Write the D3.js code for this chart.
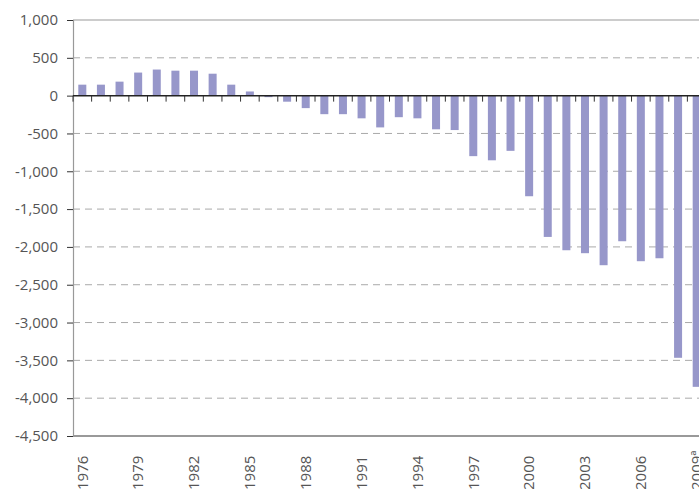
<!DOCTYPE html>
<html><head><meta charset="utf-8">
<script src="https://cdn.jsdelivr.net/npm/d3@7"></script>
<style>
html,body{margin:0;padding:0;background:#fff;overflow:hidden}
svg{display:block}
text{font-family:"Open Sans",sans-serif;fill:#555}
</style></head>
<body>
<svg id="c" width="699" height="489"></svg>
<script>
const years = ["1976","1977","1978","1979","1980","1981","1982","1983","1984","1985","1986","1987","1988","1989","1990","1991","1992","1993","1994","1995","1996","1997","1998","1999","2000","2001","2002","2003","2004","2005","2006","2007","2008","2009"];
const values = [145,145,185,305,345,330,330,290,145,55,-20,-80,-165,-245,-245,-300,-420,-285,-300,-445,-455,-800,-855,-730,-1330,-1868,-2044,-2083,-2242,-1925,-2189,-2150,-3466,-3850];
const yTicks = [1000,500,0,-500,-1000,-1500,-2000,-2500,-3000,-3500,-4000,-4500];
const xLabelYears = ["1976","1979","1982","1985","1988","1991","1994","1997","2000","2003","2006","2009"];
const xLabelText = {"2009":"2009ª"};

const svg = d3.select("#c");
const W = 699;
const x = d3.scaleBand().domain(years).range([73, 706]).paddingInner(0.57).paddingOuter(0.285);
const y = d3.scaleLinear().domain([-4500, 1000]).range([436, 20]);
const fmt = v => (v < 0 ? "-" : "") + d3.format(",")(Math.abs(v));

// gridlines
svg.append("g").selectAll("line").data(yTicks.filter(v => v !== 0 && v !== 1000 && v !== -4500)).join("line")
  .attr("x1", 73).attr("x2", W).attr("y1", d => y(d)).attr("y2", d => y(d))
  .attr("stroke", "#aaa").attr("stroke-width", 1).attr("stroke-dasharray", "7,5");
// top border
svg.append("line").attr("x1", 73).attr("x2", W).attr("y1", y(1000)).attr("y2", y(1000))
  .attr("stroke", "#999").attr("stroke-width", 1);
// bottom border
svg.append("line").attr("x1", 73).attr("x2", W).attr("y1", y(-4500)).attr("y2", y(-4500))
  .attr("stroke", "#777").attr("stroke-width", 1.3);

// bars
svg.append("g").selectAll("rect").data(years).join("rect")
  .attr("x", d => x(d)).attr("width", x.bandwidth())
  .attr("y", (d, i) => y(Math.max(0, values[i])))
  .attr("height", (d, i) => Math.abs(y(values[i]) - y(0)))
  .attr("fill", "#9797ca");

// y axis
const yAxis = d3.axisLeft(y).tickValues(yTicks).tickSize(6).tickPadding(9).tickFormat(fmt);
const gy = svg.append("g").attr("transform", "translate(73,0)").call(yAxis);
gy.select(".domain").attr("stroke", "#999").attr("stroke-width", 1.2);
gy.selectAll(".tick line").attr("stroke", "#333");
gy.selectAll(".tick text").style("font-size", "15px").attr("fill", "#555").style("font-family", "Open Sans, sans-serif");

// zero line and ticks
const step = x.step();
svg.append("g").selectAll("line").data(d3.range(years.length + 1)).join("line")
  .attr("x1", i => 73 + i * step).attr("x2", i => 73 + i * step)
  .attr("y1", y(0)).attr("y2", y(0) + 6)
  .attr("stroke", "#333").attr("stroke-width", 1);
svg.append("line").attr("x1", 73).attr("x2", W).attr("y1", y(0)).attr("y2", y(0))
  .attr("stroke", "#222").attr("stroke-width", 1.5);

// x labels
svg.append("g").selectAll("text").data(xLabelYears).join("text")
  .attr("transform", d => `translate(${x(d) + x.bandwidth() / 2},490) rotate(-90)`)
  .attr("text-anchor", "start").attr("dy", "0.35em")
  .style("font-size", "15px")
  .text(d => xLabelText[d] || d);
</script>
</body></html>
